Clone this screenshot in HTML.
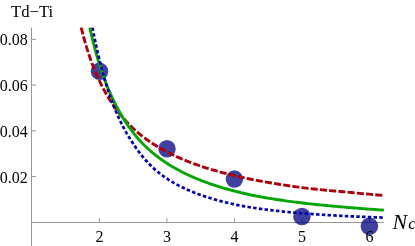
<!DOCTYPE html>
<html><head><meta charset="utf-8"><style>
html,body{margin:0;padding:0;background:#fff;}
body{width:415px;height:246px;overflow:hidden;}
svg{display:block} .tx{filter:grayscale(1)}
text{font-family:"Liberation Serif",serif;font-size:16px;fill:#000}
</style></head><body>
<svg width="415" height="246" viewBox="0 0 415 246">
<rect width="415" height="246" fill="#fff"/>
<g stroke="#979797" stroke-width="1" fill="none">
<line x1="31.5" y1="27.5" x2="31.5" y2="246"/>
<line x1="31.5" y1="222.5" x2="383.8" y2="222.5"/>
<line x1="99.4" y1="222.5" x2="99.4" y2="218.2"/><line x1="166.9" y1="222.5" x2="166.9" y2="218.2"/><line x1="234.5" y1="222.5" x2="234.5" y2="218.2"/><line x1="302.0" y1="222.5" x2="302.0" y2="218.2"/><line x1="369.5" y1="222.5" x2="369.5" y2="218.2"/><line x1="31.5" y1="39.4" x2="35.8" y2="39.4"/><line x1="31.5" y1="85.1" x2="35.8" y2="85.1"/><line x1="31.5" y1="130.8" x2="35.8" y2="130.8"/><line x1="31.5" y1="176.5" x2="35.8" y2="176.5"/>
</g>
<g fill="#00007f" fill-opacity="0.75"><circle cx="99.5" cy="71.3" r="8.75"/><circle cx="167.0" cy="148.7" r="8.75"/><circle cx="234.4" cy="179.1" r="8.75"/><circle cx="301.9" cy="216.5" r="8.75"/><circle cx="369.4" cy="226.3" r="8.75"/></g>
<clipPath id="cp"><rect x="0" y="27.3" width="384.0" height="230"/></clipPath>
<g fill="none" stroke-width="2.5" clip-path="url(#cp)">
<path d="M81.20 27.50 L81.25 27.72 L81.36 28.18 L81.51 28.80 L81.70 29.54 L81.91 30.41 L82.16 31.37 L82.43 32.43 L82.72 33.56 L83.03 34.77 L83.37 36.04 L83.73 37.37 L84.11 38.75 L84.50 40.18 L84.92 41.66 L85.35 43.17 L85.81 44.71 L86.28 46.29 L86.76 47.89 L87.27 49.51 L87.78 51.15 L88.32 52.81 L88.87 54.47 L89.43 56.15 L90.02 57.84 L90.61 59.53 L91.22 61.23 L91.84 62.93 L92.48 64.62 L93.13 66.32 L93.80 68.01 L94.48 69.69 L95.17 71.37 L95.87 73.04 L96.59 74.71 L97.32 76.36 L98.07 78.00 L98.82 79.63 L99.59 81.25 L100.37 82.85 L101.15 84.44 L101.94 86.02 L102.74 87.58 L103.55 89.13 L104.38 90.66 L105.21 92.17 L106.06 93.67 L106.91 95.15 L107.78 96.61 L108.66 98.06 L109.55 99.49 L110.45 100.91 L111.36 102.30 L112.28 103.68 L113.21 105.04 L114.15 106.39 L115.11 107.72 L116.07 109.03 L117.04 110.32 L118.03 111.59 L119.02 112.85 L120.02 114.10 L121.04 115.35 L122.06 116.60 L123.09 117.83 L124.13 119.04 L125.19 120.24 L126.27 121.42 L127.37 122.58 L128.47 123.73 L129.58 124.87 L130.71 125.99 L131.84 127.09 L132.98 128.18 L134.13 129.26 L135.29 130.32 L136.46 131.37 L137.64 132.40 L138.82 133.42 L140.02 134.43 L141.23 135.39 L142.44 136.33 L143.67 137.27 L144.90 138.18 L146.14 139.09 L147.39 139.98 L148.65 140.87 L149.92 141.73 L151.20 142.59 L152.48 143.44 L153.78 144.27 L155.08 145.09 L156.40 145.90 L157.72 146.70 L159.05 147.49 L160.38 148.27 L161.73 149.04 L163.08 149.79 L164.45 150.54 L165.82 151.28 L167.20 152.00 L168.59 152.72 L169.98 153.43 L171.39 154.13 L172.80 154.82 L174.22 155.50 L175.65 156.17 L177.09 156.83 L178.53 157.48 L179.99 158.13 L181.45 158.76 L182.92 159.39 L184.40 160.01 L185.88 160.62 L187.37 161.23 L188.88 161.82 L190.38 162.41 L191.90 162.99 L193.43 163.57 L194.96 164.13 L196.50 164.69 L198.05 165.23 L199.60 165.76 L201.17 166.28 L202.74 166.80 L204.31 167.32 L205.90 167.82 L207.49 168.32 L209.10 168.81 L210.70 169.30 L212.32 169.78 L213.94 170.25 L215.58 170.72 L217.21 171.19 L218.86 171.64 L220.51 172.09 L222.17 172.54 L223.84 172.98 L225.52 173.42 L227.20 173.85 L228.89 174.27 L230.59 174.69 L232.29 175.10 L234.00 175.51 L235.72 175.92 L237.45 176.32 L239.18 176.71 L240.92 177.11 L242.67 177.49 L244.42 177.87 L246.19 178.25 L247.95 178.62 L249.73 178.99 L251.51 179.35 L253.30 179.71 L255.10 180.07 L256.90 180.42 L258.71 180.76 L260.53 181.10 L262.36 181.43 L264.19 181.76 L266.03 182.09 L267.87 182.41 L269.72 182.73 L271.58 183.04 L273.45 183.36 L275.32 183.66 L277.20 183.97 L279.09 184.27 L280.98 184.57 L282.88 184.86 L284.78 185.16 L286.70 185.44 L288.62 185.73 L290.54 186.01 L292.48 186.29 L294.42 186.57 L296.36 186.84 L298.32 187.11 L300.27 187.38 L302.24 187.64 L304.21 187.90 L306.19 188.16 L308.18 188.39 L310.17 188.61 L312.17 188.83 L314.17 189.04 L316.19 189.25 L318.20 189.45 L320.23 189.66 L322.26 189.86 L324.30 190.05 L326.34 190.25 L328.39 190.44 L330.45 190.63 L332.51 190.82 L334.58 191.01 L336.66 191.19 L338.74 191.37 L340.83 191.55 L342.92 191.73 L345.02 191.90 L347.13 192.12 L349.24 192.33 L351.36 192.55 L353.49 192.76 L355.62 192.96 L357.76 193.17 L359.90 193.37 L362.05 193.58 L364.21 193.78 L366.37 193.98 L368.54 194.17 L370.72 194.37 L372.90 194.56 L375.09 194.75 L377.28 194.94 L379.48 195.13 L381.69 195.31 L383.90 195.50" stroke="#ab000c" stroke-width="2.9" stroke-dasharray="7.05 2.21"/>
<path d="M89.74 27.50 L89.79 27.74 L89.90 28.23 L90.05 28.89 L90.23 29.69 L90.44 30.61 L90.67 31.65 L90.93 32.78 L91.22 34.01 L91.52 35.31 L91.85 36.68 L92.20 38.13 L92.56 39.63 L92.95 41.18 L93.35 42.79 L93.78 44.44 L94.22 46.13 L94.67 47.85 L95.14 49.61 L95.63 51.40 L96.14 53.20 L96.66 55.03 L97.19 56.88 L97.74 58.75 L98.30 60.62 L98.88 62.51 L99.47 64.40 L100.08 66.30 L100.69 68.20 L101.32 70.10 L101.96 72.00 L102.61 73.89 L103.27 75.78 L103.95 77.67 L104.64 79.55 L105.34 81.42 L106.05 83.28 L106.78 85.13 L107.52 86.97 L108.26 88.79 L109.02 90.60 L109.80 92.40 L110.58 94.18 L111.37 95.94 L112.18 97.69 L113.00 99.42 L113.83 101.13 L114.66 102.83 L115.51 104.50 L116.37 106.16 L117.25 107.80 L118.13 109.42 L119.02 111.02 L119.92 112.60 L120.83 114.20 L121.76 115.78 L122.69 117.35 L123.63 118.90 L124.58 120.42 L125.55 121.93 L126.54 123.42 L127.53 124.89 L128.54 126.34 L129.55 127.77 L130.57 129.18 L131.61 130.57 L132.65 131.95 L133.70 133.30 L134.76 134.64 L135.83 135.96 L136.91 137.26 L138.00 138.54 L139.10 139.80 L140.21 141.05 L141.33 142.26 L142.46 143.42 L143.59 144.56 L144.74 145.69 L145.89 146.80 L147.05 147.89 L148.22 148.96 L149.40 150.02 L150.59 151.06 L151.79 152.09 L153.00 153.10 L154.21 154.10 L155.43 155.08 L156.67 156.04 L157.91 156.99 L159.16 157.92 L160.41 158.84 L161.68 159.75 L162.95 160.64 L164.24 161.52 L165.53 162.39 L166.83 163.24 L168.13 164.08 L169.45 164.90 L170.77 165.72 L172.11 166.52 L173.45 167.30 L174.79 168.08 L176.15 168.84 L177.51 169.60 L178.89 170.34 L180.27 171.07 L181.66 171.79 L183.05 172.49 L184.45 173.19 L185.87 173.87 L187.29 174.55 L188.71 175.22 L190.15 175.87 L191.59 176.52 L193.04 177.15 L194.50 177.78 L195.96 178.39 L197.44 179.00 L198.92 179.60 L200.41 180.19 L201.90 180.77 L203.40 181.34 L204.92 181.91 L206.43 182.46 L207.96 183.01 L209.49 183.55 L211.03 184.08 L212.58 184.61 L214.14 185.12 L215.70 185.63 L217.27 186.14 L218.84 186.63 L220.43 187.12 L222.02 187.60 L223.62 188.07 L225.22 188.54 L226.84 189.00 L228.46 189.45 L230.08 189.90 L231.72 190.34 L233.36 190.77 L235.01 191.20 L236.66 191.62 L238.33 192.03 L239.99 192.44 L241.67 192.84 L243.35 193.24 L245.04 193.63 L246.74 194.02 L248.45 194.40 L250.16 194.77 L251.87 195.14 L253.60 195.51 L255.33 195.86 L257.07 196.19 L258.81 196.52 L260.57 196.84 L262.32 197.15 L264.09 197.46 L265.86 197.76 L267.64 198.06 L269.42 198.36 L271.22 198.65 L273.02 198.94 L274.82 199.22 L276.63 199.50 L278.45 199.78 L280.28 200.05 L282.11 200.31 L283.95 200.58 L285.79 200.84 L287.64 201.09 L289.50 201.34 L291.36 201.59 L293.24 201.83 L295.11 202.08 L297.00 202.31 L298.89 202.55 L300.78 202.78 L302.69 203.00 L304.59 203.23 L306.51 203.45 L308.43 203.67 L310.36 203.88 L312.30 204.09 L314.24 204.30 L316.18 204.50 L318.14 204.71 L320.10 204.91 L322.06 205.10 L324.04 205.30 L326.01 205.49 L328.00 205.67 L329.99 205.86 L331.99 206.04 L333.99 206.22 L336.00 206.40 L338.02 206.57 L340.04 206.75 L342.07 206.92 L344.10 207.08 L346.14 207.26 L348.19 207.44 L350.24 207.61 L352.30 207.79 L354.36 207.96 L356.43 208.13 L358.51 208.30 L360.59 208.46 L362.68 208.63 L364.78 208.79 L366.88 208.95 L368.99 209.10 L371.10 209.26 L373.22 209.41 L375.34 209.56 L377.47 209.71 L379.61 209.86 L381.75 210.01 L383.90 210.15" stroke="#06a506" stroke-width="2.9"/>
<path d="M92.48 27.50 L92.53 27.77 L92.64 28.33 L92.79 29.08 L92.96 30.00 L93.17 31.06 L93.40 32.24 L93.66 33.54 L93.94 34.94 L94.25 36.43 L94.57 38.01 L94.91 39.67 L95.28 41.40 L95.66 43.19 L96.06 45.04 L96.48 46.95 L96.91 48.90 L97.36 50.90 L97.83 52.93 L98.31 55.00 L98.81 57.10 L99.33 59.23 L99.86 61.38 L100.40 63.55 L100.96 65.73 L101.53 67.93 L102.11 70.14 L102.71 72.35 L103.33 74.57 L103.95 76.79 L104.59 79.01 L105.25 81.23 L105.91 83.44 L106.59 85.65 L107.28 87.85 L107.98 90.04 L108.70 92.21 L109.42 94.38 L110.16 96.53 L110.93 98.66 L111.72 100.78 L112.51 102.87 L113.32 104.95 L114.13 107.01 L114.96 109.05 L115.80 111.06 L116.65 113.05 L117.51 115.02 L118.39 116.97 L119.27 118.89 L120.17 120.79 L121.07 122.66 L121.99 124.50 L122.92 126.32 L123.85 128.12 L124.80 129.89 L125.76 131.63 L126.73 133.34 L127.71 135.03 L128.70 136.70 L129.70 138.33 L130.71 139.94 L131.73 141.52 L132.76 143.08 L133.79 144.61 L134.79 146.11 L135.80 147.59 L136.81 149.04 L137.84 150.47 L138.88 151.87 L139.92 153.25 L140.98 154.60 L142.04 155.92 L143.11 157.22 L144.20 158.50 L145.29 159.75 L146.38 160.98 L147.49 162.19 L148.61 163.37 L149.73 164.53 L150.87 165.66 L152.01 166.76 L153.16 167.84 L154.32 168.90 L155.48 169.94 L156.66 170.95 L157.84 171.94 L159.04 172.92 L160.24 173.87 L161.48 174.81 L162.72 175.72 L163.98 176.62 L165.24 177.50 L166.51 178.36 L167.78 179.20 L169.07 180.02 L170.36 180.83 L171.67 181.62 L172.98 182.39 L174.29 183.15 L175.62 183.89 L176.96 184.61 L178.30 185.32 L179.65 186.02 L181.01 186.71 L182.37 187.39 L183.74 188.06 L185.13 188.72 L186.52 189.36 L187.91 189.99 L189.32 190.60 L190.73 191.21 L192.15 191.80 L193.58 192.37 L195.01 192.94 L196.46 193.49 L197.91 194.04 L199.36 194.57 L200.83 195.09 L202.30 195.60 L203.78 196.10 L205.27 196.59 L206.76 197.06 L208.27 197.53 L209.78 197.99 L211.29 198.46 L212.82 198.92 L214.35 199.37 L215.89 199.81 L217.44 200.25 L218.99 200.67 L220.55 201.09 L222.12 201.50 L223.69 201.90 L225.27 202.30 L226.86 202.68 L228.46 203.06 L230.06 203.43 L231.67 203.80 L233.29 204.15 L234.91 204.51 L236.55 204.85 L238.18 205.19 L239.83 205.52 L241.48 205.82 L243.14 206.12 L244.81 206.41 L246.48 206.70 L248.16 206.98 L249.85 207.25 L251.54 207.52 L253.24 207.78 L254.95 208.04 L256.66 208.29 L258.38 208.54 L260.11 208.79 L261.84 209.02 L263.58 209.26 L265.33 209.48 L267.08 209.71 L268.84 209.93 L270.61 210.14 L272.38 210.36 L274.16 210.56 L275.95 210.77 L277.74 210.96 L279.54 211.16 L281.35 211.35 L283.16 211.54 L284.98 211.72 L286.80 211.90 L288.64 212.08 L290.48 212.25 L292.32 212.42 L294.17 212.59 L296.03 212.75 L297.89 212.91 L299.76 213.07 L301.64 213.23 L303.52 213.38 L305.41 213.53 L307.31 213.67 L309.21 213.82 L311.12 213.96 L313.04 214.10 L314.96 214.23 L316.88 214.36 L318.82 214.49 L320.76 214.62 L322.70 214.75 L324.65 214.87 L326.61 214.99 L328.58 215.11 L330.55 215.23 L332.52 215.34 L334.51 215.45 L336.50 215.56 L338.49 215.67 L340.49 215.78 L342.50 215.88 L344.51 215.98 L346.53 216.09 L348.56 216.18 L350.59 216.28 L352.63 216.38 L354.67 216.47 L356.72 216.56 L358.77 216.65 L360.84 216.74 L362.90 216.83 L364.98 216.91 L367.05 217.00 L369.14 217.08 L371.23 217.16 L373.33 217.24 L375.43 217.32 L377.54 217.40 L379.65 217.47 L381.77 217.55 L383.90 217.62" stroke="#0000b0" stroke-dasharray="3.45 2.302" stroke-width="2.7"/>
</g>
<g class="tx"><text x="11.0" y="16.7" style="font-size:16.7px">Td−Ti</text>
<text x="27.8" y="45.4" text-anchor="end">0.08</text><text x="27.8" y="91.1" text-anchor="end">0.06</text><text x="27.8" y="136.8" text-anchor="end">0.04</text><text x="27.8" y="182.5" text-anchor="end">0.02</text>
<text x="99.4" y="241.8" text-anchor="middle">2</text><text x="166.9" y="241.8" text-anchor="middle">3</text><text x="234.5" y="241.8" text-anchor="middle">4</text><text x="302.0" y="241.8" text-anchor="middle">5</text><text x="369.5" y="241.8" text-anchor="middle">6</text>
<text x="392.6" y="228.9" font-style="italic" style="font-size:22px">N<tspan dx="1" style="font-size:17px">c</tspan></text></g>
</svg>
</body></html>
